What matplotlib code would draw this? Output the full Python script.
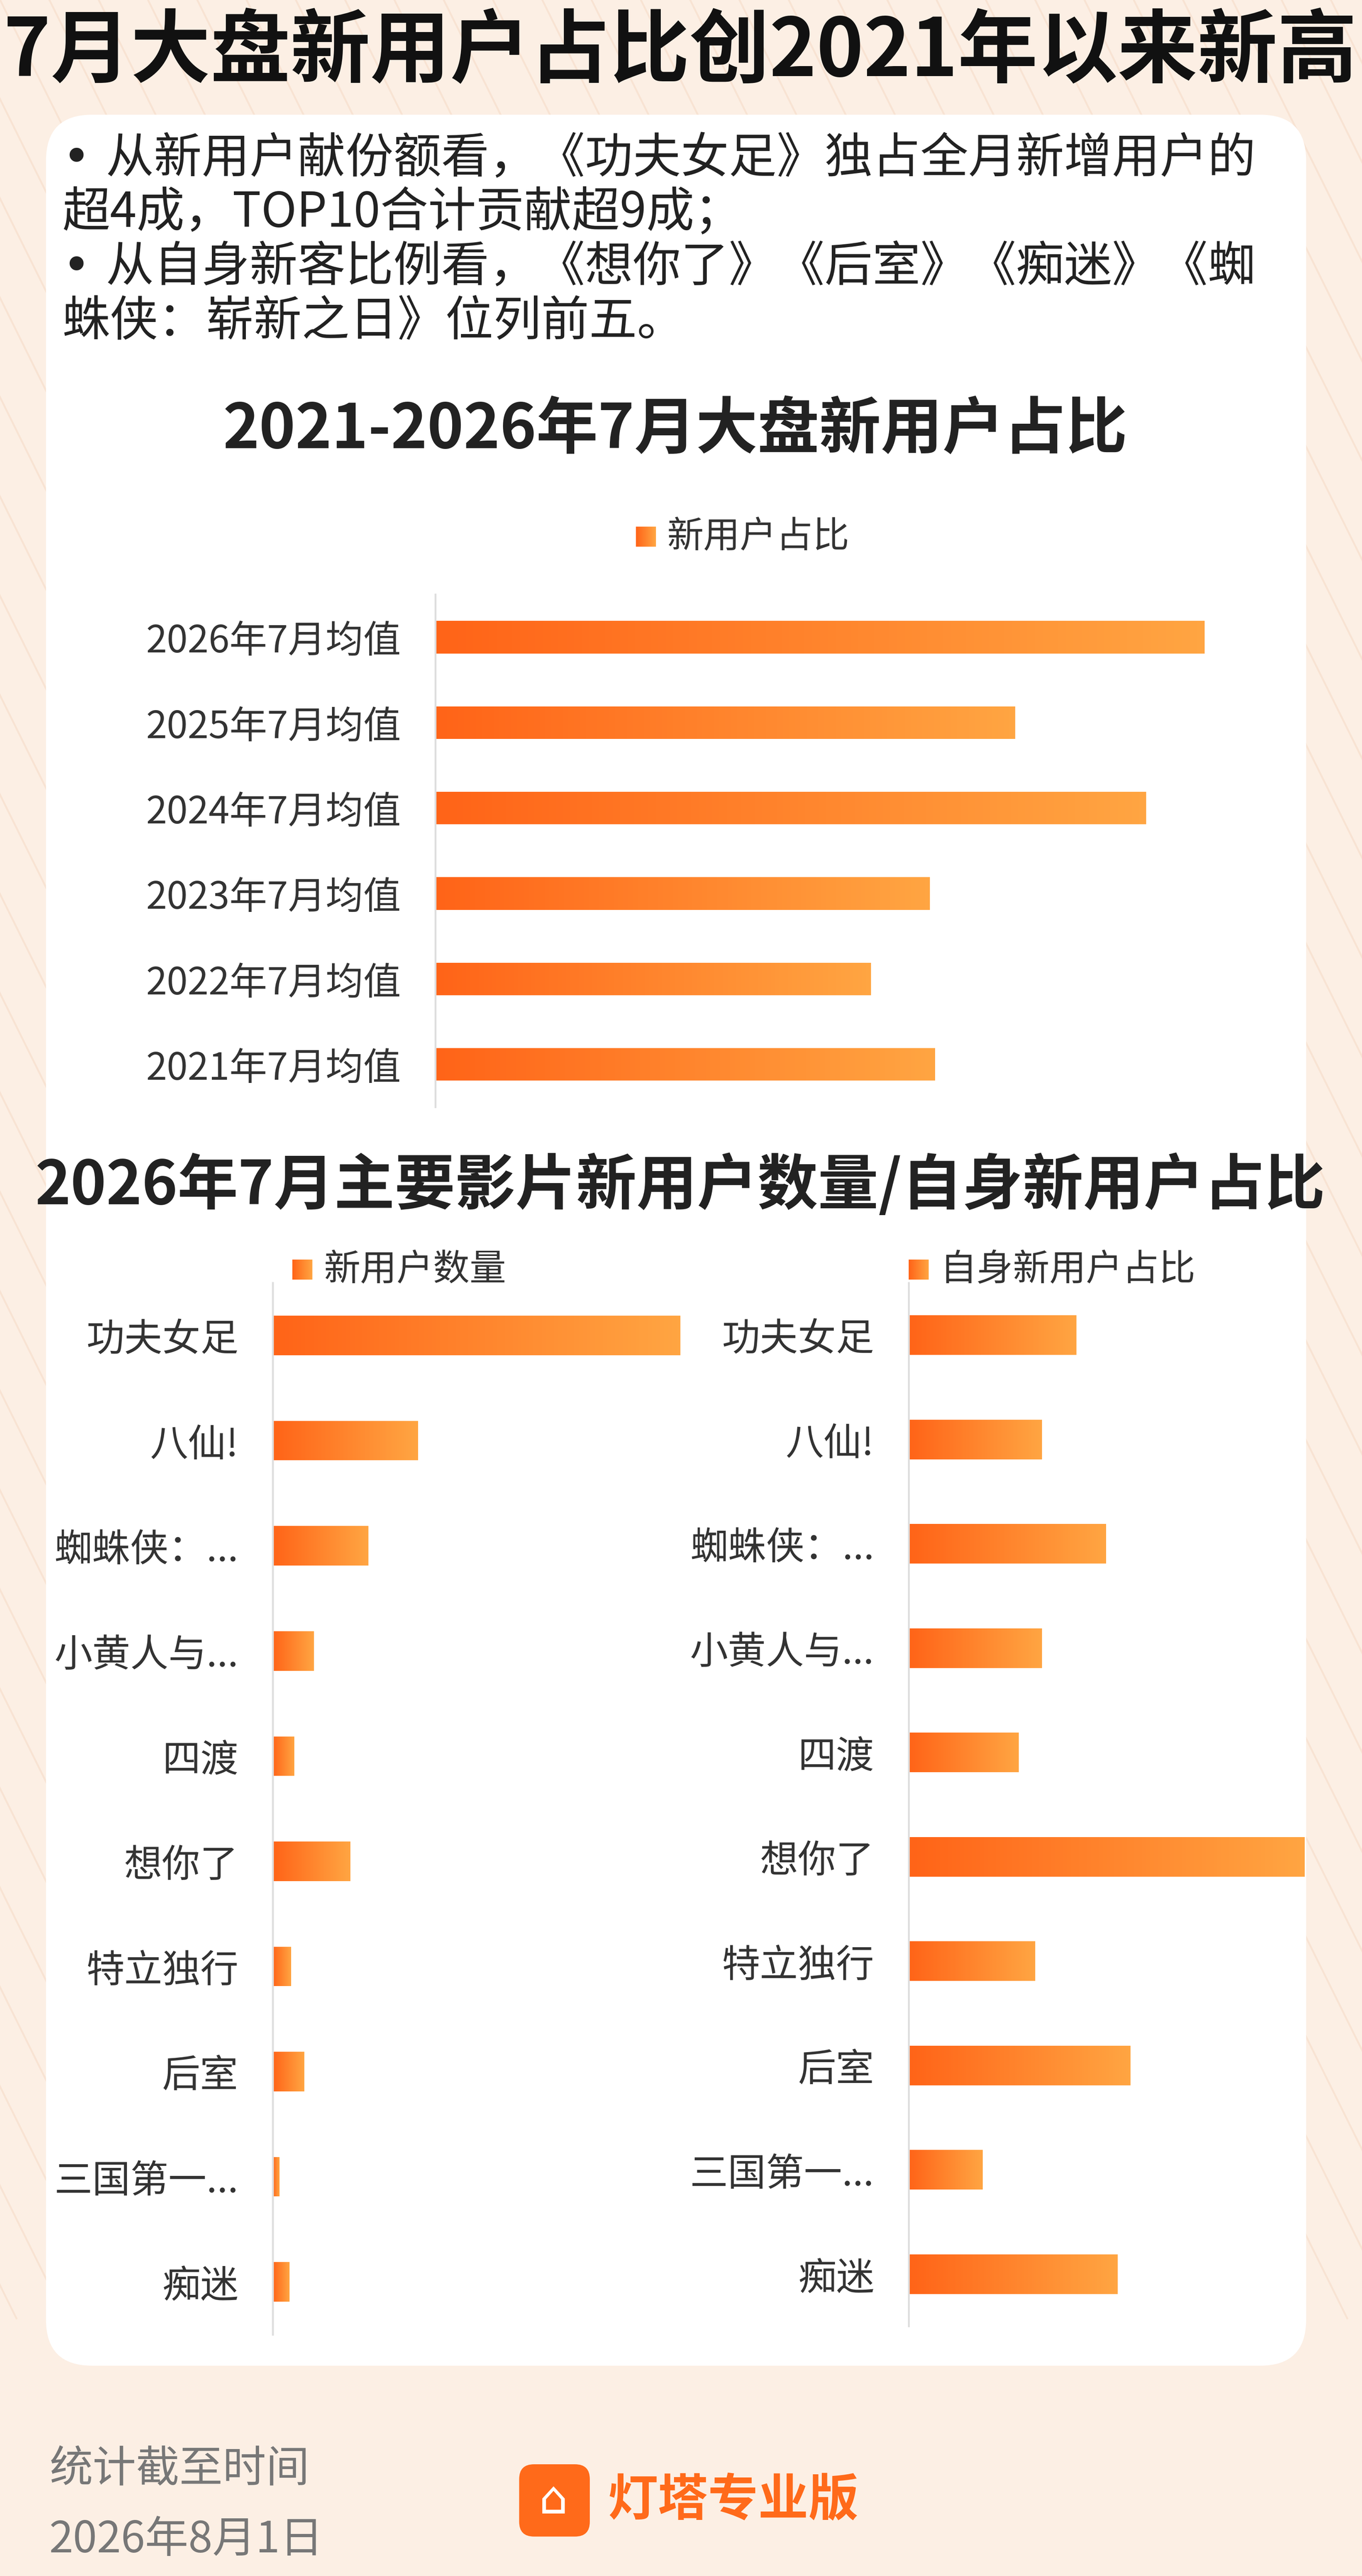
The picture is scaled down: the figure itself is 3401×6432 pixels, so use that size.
import matplotlib
matplotlib.use("Agg")
import matplotlib.pyplot as plt
import numpy as np
from matplotlib.patches import FancyBboxPatch
from matplotlib.colors import LinearSegmentedColormap

plt.rcParams['font.family'] = ['Noto Sans CJK SC', 'DejaVu Sans']

# ---- data ----
years = ["2026年7月均值", "2025年7月均值", "2024年7月均值", "2023年7月均值", "2022年7月均值", "2021年7月均值"]
year_share = [0.459, 0.346, 0.424, 0.295, 0.260, 0.298]
films = ["功夫女足", "八仙!", "蜘蛛侠：...", "小黄人与...", "四渡", "想你了", "特立独行", "后室", "三国第一...", "痴迷"]
film_new_users = [247, 88, 58, 25, 13, 47, 11, 19, 4, 10]
film_self_share = [102, 81, 120, 81, 67, 241, 77, 135, 45, 127]

W, H = 829, 1568
fig = plt.figure(figsize=(W/100, H/100), dpi=3401/8.29)
fig.patch.set_facecolor("#FCEFE4")
cmap = LinearSegmentedColormap.from_list("g", ["#FF6418", "#FFA542"])

bg = fig.add_axes([0, 0, 1, 1]); bg.set_xlim(0, W); bg.set_ylim(H, 0); bg.axis("off")
for k in range(-40, 60):
    bg.plot([k*30, k*30+700], [0, H*0.9], color="#F8E3D3", lw=0.8, zorder=0)
bg.add_patch(FancyBboxPatch((28, 70), 767, 1370, boxstyle="round,pad=0,rounding_size=28",
                            fc="white", ec="none", zorder=1))
bg.text(414, 32, "7月大盘新用户占比创2021年以来新高", fontsize=35, fontweight="bold",
        ha="center", va="center", color="#111111", zorder=2)
lines = ["• 从新用户献份额看，《功夫女足》独占全月新增用户的", "超4成，TOP10合计贡献超9成；",
         "• 从自身新客比例看，《想你了》《后室》《痴迷》《蜘", "蛛侠：崭新之日》位列前五。"]
for i, t in enumerate(lines):
    bg.text(38, 97 + 33*i, t, fontsize=21, va="center", color="#222222", zorder=2,
            family=['DejaVu Sans', 'Noto Sans CJK SC'] if t.startswith("•") else None)
bg.text(411, 262, "2021-2026年7月大盘新用户占比", fontsize=27, fontweight="bold",
        ha="center", va="center", color="#222222", zorder=2)
bg.text(414, 722, "2026年7月主要影片新用户数量/自身新用户占比", fontsize=26.5, fontweight="bold",
        ha="center", va="center", color="#222222", zorder=2)
for (x, y, t) in [(387, 327, "新用户占比"), (178, 773, "新用户数量"), (553, 773, "自身新用户占比")]:
    grad = np.linspace(0, 1, 50).reshape(1, -1)
    bg.imshow(grad, cmap=cmap, extent=(x, x+12, y+6, y-6), aspect="auto", zorder=3)
    bg.text(x+19, y, t, fontsize=16, va="center", color="#333333", zorder=3)
bg.text(30, 1503, "统计截至时间", fontsize=19, va="center", color="#777777", zorder=2)
bg.text(30, 1546, "2026年8月1日", fontsize=19, va="center", color="#777777", zorder=2)
bg.add_patch(FancyBboxPatch((316, 1500), 43, 44, boxstyle="round,pad=0,rounding_size=9",
                            fc="#FF6A1A", ec="none", zorder=2))
bg.text(337, 1522, "⌂", fontsize=20, ha="center", va="center", color="white", zorder=3,
        family=['DejaVu Sans'])
bg.text(370, 1522, "灯塔专业版", fontsize=22, fontweight="bold", va="center", color="#FF6A1A", zorder=2)
bg.set_xlim(0, W); bg.set_ylim(H, 0)


def add_ax(x0, y0, x1, y1, fs):
    ax = fig.add_axes([x0/W, 1-y1/H, (x1-x0)/W, (y1-y0)/H])
    ax.set_facecolor("none")
    for s in ["top", "right", "bottom"]:
        ax.spines[s].set_visible(False)
    ax.spines["left"].set_color("#DDDDDD")
    ax.tick_params(axis="y", length=0, pad=15, labelsize=fs, labelcolor="#333333")
    ax.set_xticks([])
    return ax


def grad_bars(ax, labels, vals, height):
    ypos = np.arange(len(vals))
    bars = ax.barh(ypos, vals, height=height, color="none")
    for b in bars:
        x, y, w, h = b.get_x(), b.get_y(), b.get_width(), b.get_height()
        im = ax.imshow(np.linspace(0, 1, 100).reshape(1, -1), cmap=cmap,
                       extent=(x, x+w, y, y+h), aspect="auto", zorder=2)
        im.set_clip_path(b)
    ax.set_yticks(ypos)
    ax.set_yticklabels(labels)


ax1 = add_ax(265, 362, 775, 674, 16.5)
grad_bars(ax1, years, year_share, 0.38)
ax1.set_xlim(0, 0.5)
ax1.set_ylim(5.5, -0.5)

ax2 = add_ax(166, 781, 415, 1421, 16.7)
grad_bars(ax2, films, film_new_users, 0.375)
ax2.set_xlim(0, 248)
ax2.set_ylim(9.5, -0.5)

ax3 = add_ax(553, 781, 795, 1416, 16.7)
grad_bars(ax3, films, film_self_share, 0.38)
ax3.set_xlim(0, 242)
ax3.set_ylim(9.5, -0.5)

fig.savefig("out.png", dpi=3401/8.29, facecolor=fig.get_facecolor())
